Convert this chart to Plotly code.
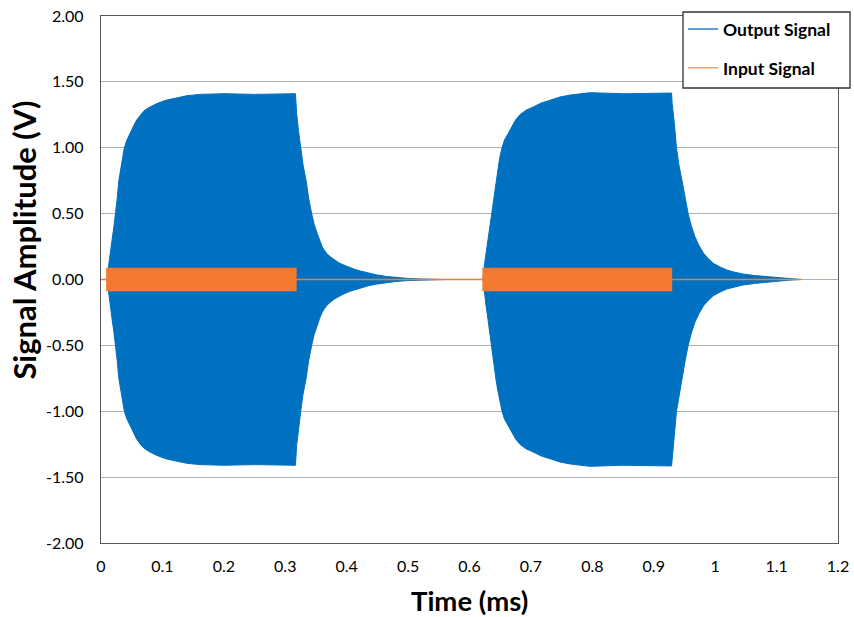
import plotly.graph_objects as go

# ---- data -------------------------------------------------------------
# Output signal: peak amplitude (V) of the oscillation at each time (ms)
out_time_ms = [0.0, 0.0098, 0.0105, 0.012, 0.015, 0.018, 0.021, 0.024, 0.0265,
               0.029, 0.032, 0.035, 0.038, 0.042, 0.046, 0.052, 0.058, 0.064,
               0.070, 0.078, 0.091, 0.105, 0.124, 0.140, 0.161, 0.200, 0.250,
               0.3165,
               0.3175, 0.3185, 0.3215, 0.3252, 0.329, 0.334, 0.338, 0.343,
               0.347, 0.352, 0.356, 0.360, 0.364, 0.368, 0.374, 0.380, 0.387,
               0.394, 0.405, 0.413, 0.422, 0.435, 0.449, 0.465, 0.480, 0.500,
               0.520, 0.540, 0.560,
               0.622, 0.6225, 0.624, 0.627, 0.630, 0.633, 0.636, 0.6395,
               0.643, 0.646, 0.649, 0.653, 0.657, 0.662, 0.669, 0.675, 0.682,
               0.692, 0.704, 0.717, 0.731, 0.747, 0.764, 0.796, 0.850, 0.929,
               0.930, 0.933, 0.937, 0.941, 0.946, 0.951, 0.956, 0.961, 0.967,
               0.974, 0.981, 0.989, 0.997, 1.008, 1.019, 1.032, 1.045, 1.064,
               1.084, 1.100, 1.120, 1.138, 1.140]
out_peak_v = [0.0, 0.0, 0.04, 0.10, 0.20, 0.30, 0.40, 0.50, 0.62,
              0.75, 0.84, 0.92, 1.00, 1.057, 1.10, 1.155, 1.21, 1.25,
              1.28, 1.305, 1.335, 1.36, 1.38, 1.395, 1.405, 1.41, 1.405,
              1.41,
              1.34, 1.26, 1.13, 1.00, 0.87, 0.75, 0.62, 0.50,
              0.42, 0.35, 0.295, 0.25, 0.22, 0.195, 0.17, 0.148, 0.128,
              0.112, 0.09, 0.077, 0.065, 0.048, 0.035, 0.023, 0.015, 0.008,
              0.004, 0.002, 0.0,
              0.0, 0.04, 0.10, 0.20, 0.30, 0.40, 0.50, 0.62,
              0.755, 0.84, 0.92, 1.00, 1.06, 1.10, 1.16, 1.21, 1.25,
              1.285, 1.31, 1.34, 1.36, 1.385, 1.40, 1.418, 1.41, 1.415,
              1.33, 1.21, 1.00, 0.87, 0.75, 0.62, 0.50, 0.41, 0.325,
              0.255, 0.20, 0.157, 0.123, 0.095, 0.072, 0.055, 0.042, 0.030,
              0.021, 0.013, 0.005, 0.0, 0.0]

# Input signal: peak amplitude (V) of the drive bursts
in_time_ms = [0.0, 0.0095, 0.0095, 0.3175, 0.3175, 0.622, 0.622, 0.929, 0.929, 1.14]
in_peak_v = [0.0, 0.0, 0.085, 0.085, 0.0, 0.0, 0.085, 0.085, 0.0, 0.0]

x_ticks = [0, 0.1, 0.2, 0.3, 0.4, 0.5, 0.6, 0.7, 0.8, 0.9, 1.0, 1.1, 1.2]
x_tick_text = ["0", "0.1", "0.2", "0.3", "0.4", "0.5", "0.6", "0.7", "0.8",
               "0.9", "1", "1.1", "1.2"]
y_ticks = [-2.0, -1.5, -1.0, -0.5, 0.0, 0.5, 1.0, 1.5, 2.0]
y_tick_text = ["-2.00", "-1.50", "-1.00", "-0.50", "0.00", "0.50", "1.00",
               "1.50", "2.00"]

BLUE = "#0070C0"
ORANGE = "#F47A30"
FONT = "Lato"

# legend frame, in figure pixels (left, right, top, bottom)
LEG_BOX_PX = (683, 850, 12, 88)
FIG_W, FIG_H = 854, 617
MARGIN = dict(l=101, r=16, t=16, b=74)


def band(t, peak):
    """Closed outline running along +peak and back along -peak."""
    xs = list(t) + list(reversed(t))
    ys = list(peak) + [-p for p in reversed(peak)]
    return xs, ys


def px_to_paper(px, py):
    pw = FIG_W - MARGIN["l"] - MARGIN["r"]
    ph = FIG_H - MARGIN["t"] - MARGIN["b"]
    return (px - MARGIN["l"]) / pw, (FIG_H - MARGIN["b"] - py) / ph


fig = go.Figure()

ox, oy = band(out_time_ms, out_peak_v)
fig.add_trace(go.Scatter(x=ox, y=oy, mode="lines", fill="toself",
                         fillcolor=BLUE, line=dict(color=BLUE, width=1),
                         showlegend=False, hoverinfo="skip"))

ix, iy = band(in_time_ms, in_peak_v)
fig.add_trace(go.Scatter(x=ix, y=iy, mode="lines", fill="toself",
                         fillcolor=ORANGE, line=dict(color=ORANGE, width=1.3),
                         showlegend=False, hoverinfo="skip"))

# legend entries (line samples)
fig.add_trace(go.Scatter(x=[None], y=[None], mode="lines", name="Output Signal",
                         line=dict(color="#2E7CC8", width=1.5), legendgroup="a"))
fig.add_trace(go.Scatter(x=[None], y=[None], mode="lines", name="Input Signal",
                         line=dict(color="#F0A070", width=1.5), legendgroup="b"))

axis_line = "#595959"
grid = "#AAB1BD"

bx0, by1 = px_to_paper(LEG_BOX_PX[0], LEG_BOX_PX[2])
bx1, by0 = px_to_paper(LEG_BOX_PX[1], LEG_BOX_PX[3])

fig.update_layout(
    width=FIG_W, height=FIG_H,
    margin=dict(**MARGIN, autoexpand=False),
    paper_bgcolor="white", plot_bgcolor="white",
    font=dict(family=FONT, size=16, color="black"),
    xaxis=dict(range=[0, 1.2], tickvals=x_ticks, ticktext=x_tick_text,
               showgrid=False, zeroline=False, showline=True, mirror=True,
               linecolor=axis_line, linewidth=1.3, ticks="",
               ticklabelstandoff=9, tickfont=dict(size=16)),
    yaxis=dict(range=[-2, 2], tickvals=y_ticks, ticktext=y_tick_text,
               showgrid=True, gridcolor=grid, gridwidth=1.2, zeroline=False,
               showline=True, mirror=True, linecolor=axis_line, linewidth=1.3,
               ticks="", ticklabelstandoff=13, tickfont=dict(size=16)),
    legend=dict(x=bx0, y=by1 + 0.0015, xanchor="left", yanchor="top",
                bgcolor="rgba(0,0,0,0)", borderwidth=0,
                font=dict(family=FONT, size=17.5, weight="bold"),
                traceorder="grouped", tracegroupgap=13, itemwidth=30),
    showlegend=True,
)

fig.add_shape(type="rect", xref="paper", yref="paper",
              x0=bx0, x1=bx1, y0=by0, y1=by1,
              fillcolor="white", line=dict(color="#333333", width=1.3),
              layer="above")

fig.add_annotation(text="Time (ms)", xref="paper", yref="paper",
                   x=0.5, y=-0.110, xanchor="center", yanchor="middle",
                   showarrow=False,
                   font=dict(family=FONT, size=27.5, weight="bold"))
fig.add_annotation(text="Signal Amplitude (V)", xref="paper", yref="paper",
                   x=-0.105, y=0.575, xanchor="center", yanchor="middle",
                   textangle=-90, showarrow=False,
                   font=dict(family=FONT, size=31, weight="bold"))

fig.write_html("out.html")
